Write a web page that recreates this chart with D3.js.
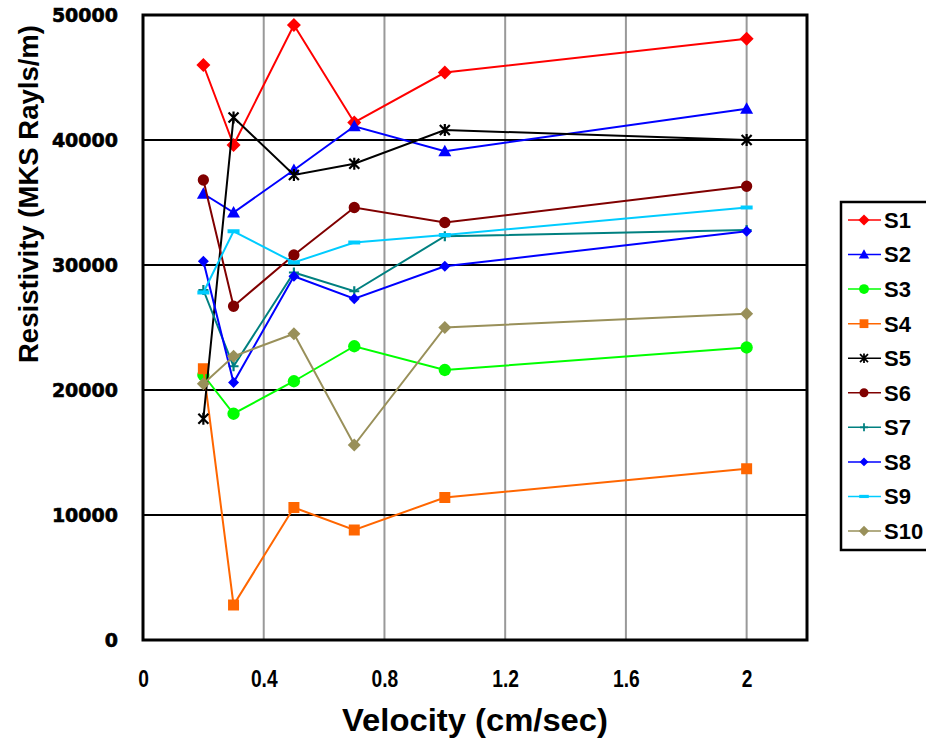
<!DOCTYPE html>
<html>
<head>
<meta charset="utf-8">
<script src="https://cdn.jsdelivr.net/npm/d3@7"></script>
<style>
  body { margin: 0; background: #fff; }
  svg { display: block; }
</style>
</head>
<body>
<div id="chart"></div>
<script>
// velocities (cm/sec)
const velocity = [0.2, 0.3, 0.5, 0.7, 1.0, 2.0];

const seriesNames = ["S1", "S2", "S3", "S4", "S5", "S6", "S7", "S8", "S9", "S10"];
const s1 = [46000, 39600, 49200, 41400, 45400, 48100];
const s2 = [35700, 34200, 37600, 41100, 39100, 42500];
const s3 = [21200, 18100, 20700, 23500, 21600, 23400];
const s4 = [21700, 2800, 10600, 8800, 11400, 13700];
const s5 = [17700, 41800, 37200, 38100, 40800, 40000];
const s6 = [36800, 26700, 30800, 34600, 33400, 36300];
const s7 = [28000, 21900, 29400, 27900, 32300, 32800];
const s8 = [30300, 20600, 29100, 27300, 29900, 32700];
const s9 = [27800, 32700, 30200, 31800, 32400, 34600];
const s10 = [20500, 22700, 24500, 15600, 25000, 26100];

const xTicks = [0, 0.4, 0.8, 1.2, 1.6, 2];
const yTicks = [0, 10000, 20000, 30000, 40000, 50000];

const colors = ["#ff0000", "#0000ff", "#00ff00", "#ff6600", "#000000",
                "#800000", "#008080", "#0000ff", "#00ccff", "#99905a"];
const markers = ["diamond", "triangle", "circle", "square", "star",
                 "circle6", "plus", "diamondSmall", "dash", "diamond10"];

const allValues = [s1, s2, s3, s4, s5, s6, s7, s8, s9, s10];
const series = seriesNames.map((name, i) => ({
  name: name,
  color: colors[i],
  marker: markers[i],
  points: velocity.map((v, j) => ({ x: v, y: allValues[i][j] }))
}));

const width = 926, height = 740;
const plot = { left: 143, top: 15, right: 807, bottom: 640 };

const svg = d3.select("#chart")
  .append("svg")
  .attr("width", width)
  .attr("height", height);

const x = d3.scaleLinear().domain([0, 2.2]).range([plot.left, plot.right]);
const y = d3.scaleLinear().domain([0, 50000]).range([plot.bottom, plot.top]);

// grid
svg.append("g")
  .selectAll("line")
  .data(xTicks.filter(d => d > 0))
  .join("line")
  .attr("x1", d => x(d)).attr("x2", d => x(d))
  .attr("y1", plot.top).attr("y2", plot.bottom)
  .attr("stroke", "#999999")
  .attr("stroke-width", 2);

svg.append("g")
  .selectAll("line")
  .data(yTicks.filter(d => d > 0 && d < 50000))
  .join("line")
  .attr("x1", plot.left).attr("x2", plot.right)
  .attr("y1", d => y(d)).attr("y2", d => y(d))
  .attr("stroke", "#000")
  .attr("stroke-width", 2);

// plot border
svg.append("rect")
  .attr("x", plot.left)
  .attr("y", plot.top)
  .attr("width", plot.right - plot.left)
  .attr("height", plot.bottom - plot.top)
  .attr("fill", "none")
  .attr("stroke", "#000")
  .attr("stroke-width", 3);

// axes (labels only)
const yAxis = svg.append("g")
  .attr("transform", `translate(${plot.left - 22},0)`)
  .call(d3.axisLeft(y).tickValues(yTicks).tickSize(0).tickFormat(d3.format("d")));
yAxis.select(".domain").remove();
yAxis.selectAll("text")
  .attr("font-family", "DejaVu Sans, sans-serif")
  .attr("font-weight", "900")
  .attr("font-size", 19)
  .attr("stroke", "#000")
  .attr("stroke-width", 0.6)
  .attr("fill", "#000");

const xAxis = svg.append("g")
  .attr("transform", `translate(0,${plot.bottom + 27})`)
  .call(d3.axisBottom(x).tickValues(xTicks).tickSize(0).tickFormat(d3.format("")));
xAxis.select(".domain").remove();
xAxis.selectAll("text")
  .attr("font-family", "Liberation Sans, Arial, sans-serif")
  .attr("font-weight", "bold")
  .attr("font-size", 24)
  .attr("transform", "scale(0.8,1)")
  .attr("fill", "#000");

// axis titles
svg.append("text")
  .attr("x", (plot.left + plot.right) / 2)
  .attr("y", 731)
  .attr("text-anchor", "middle")
  .attr("font-family", "Liberation Sans, Arial, sans-serif")
  .attr("font-weight", "bold")
  .attr("font-size", 31)
  .attr("textLength", 266)
  .attr("lengthAdjust", "spacingAndGlyphs")
  .text("Velocity (cm/sec)");

svg.append("text")
  .attr("transform", `translate(38,${(25 + 363) / 2}) rotate(-90)`)
  .attr("text-anchor", "middle")
  .attr("font-family", "Liberation Sans, Arial, sans-serif")
  .attr("font-weight", "bold")
  .attr("font-size", 28)
  .attr("textLength", 338)
  .attr("lengthAdjust", "spacingAndGlyphs")
  .text("Resistivity (MKS Rayls/m)");

// marker shapes
function markerPath(type) {
  switch (type) {
    case "diamond": return "M0,-7L7,0L0,7L-7,0Z";
    case "diamond10": return "M0,-6.5L6.5,0L0,6.5L-6.5,0Z";
    case "diamondSmall": return "M0,-5.5L5.5,0L0,5.5L-5.5,0Z";
    case "triangle": return "M0,-6.5L6.5,5L-6.5,5Z";
    case "square": return "M-5.5,-5.5H5.5V5.5H-5.5Z";
    case "circle": return d3.symbol(d3.symbolCircle, 120)();
    case "circle6": return d3.symbol(d3.symbolCircle, 100)();
    case "dash": return "M-6,-2H6V2H-6Z";
    case "plus": return "M-5,0H5M0,-5V5";
    case "star": return "M-5,-5L5,5M-5,5L5,-5M0,-6V6";
  }
}
const stroked = t => t === "plus" || t === "star";

const line = d3.line().x(d => x(d.x)).y(d => y(d.y));

series.forEach(s => {
  const g = svg.append("g");
  g.append("path")
    .datum(s.points)
    .attr("d", line)
    .attr("fill", "none")
    .attr("stroke", s.color)
    .attr("stroke-width", 2);
  g.selectAll("path.m")
    .data(s.points)
    .join("path")
    .attr("class", "m")
    .attr("transform", d => `translate(${x(d.x)},${y(d.y)})`)
    .attr("d", markerPath(s.marker))
    .attr("fill", stroked(s.marker) ? "none" : s.color)
    .attr("stroke", stroked(s.marker) ? s.color : "none")
    .attr("stroke-width", 2.2);
});

// legend
const legend = svg.append("g");
legend.append("rect")
  .attr("x", 841)
  .attr("y", 202)
  .attr("width", 100)
  .attr("height", 348)
  .attr("fill", "#fff")
  .attr("stroke", "#000")
  .attr("stroke-width", 2.5);

const legendY = d3.scaleLinear().domain([0, 9]).range([220, 531]);

series.forEach((s, i) => {
  const ly = legendY(i);
  legend.append("line")
    .attr("x1", 848).attr("x2", 881)
    .attr("y1", ly).attr("y2", ly)
    .attr("stroke", s.color)
    .attr("stroke-width", 1.5);
  legend.append("path")
    .attr("transform", `translate(864,${ly}) scale(0.8)`)
    .attr("d", markerPath(s.marker))
    .attr("fill", stroked(s.marker) ? "none" : s.color)
    .attr("stroke", stroked(s.marker) ? s.color : "none")
    .attr("stroke-width", 2.2);
  legend.append("text")
    .attr("x", 884)
    .attr("y", ly)
    .attr("dy", "0.36em")
    .attr("font-family", "Liberation Sans, Arial, sans-serif")
    .attr("font-weight", "bold")
    .attr("font-size", 22)
    .attr("fill", "#000")
    .text(s.name);
});
</script>
</body>
</html>
